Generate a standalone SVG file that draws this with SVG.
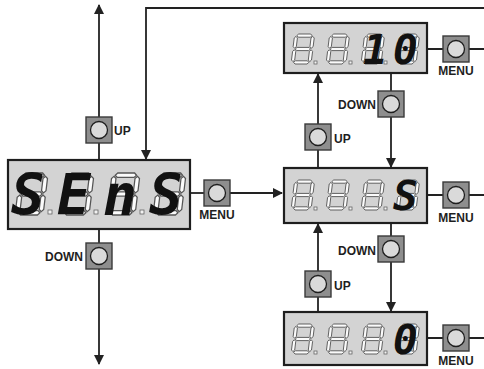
<svg xmlns="http://www.w3.org/2000/svg" xmlns:xlink="http://www.w3.org/1999/xlink" width="484" height="369" viewBox="0 0 484 369">
<style>
.disp{fill:#d3d3d3;stroke:#1e1e1e;stroke-width:2.2}
.ghost{fill:#fbfbfb;stroke:#555;stroke-width:0.9}
.dot{fill:#f2f2f2;stroke:#666;stroke-width:0.8}
.lit{font-family:"DejaVu Sans Mono",monospace;font-weight:bold;font-style:italic;fill:#111}
.btn{fill:#8e8e8e;stroke:#3a3a3a;stroke-width:1.4}
.knob{fill:#dadada;stroke:#1e1e1e;stroke-width:1.3}
.lbl{font-family:"Liberation Sans",Arial,sans-serif;font-weight:bold;font-size:12px;fill:#1e1e1e}
.wire{fill:none;stroke:#222;stroke-width:1.8}
</style>
<defs>
<path id="g8" class="ghost" d="M2.4,1.6L4,0L16,0L17.6,1.6L16,3.2L4,3.2Z M2.4,15L4,13.4L16,13.4L17.6,15L16,16.6L4,16.6Z M2.4,28.4L4,26.8L16,26.8L17.6,28.4L16,30L4,30Z M1.6,2.4L3.2,4L3.2,12.6L1.6,14.2L0,12.6L0,4Z M18.4,2.4L20,4L20,12.6L18.4,14.2L16.8,12.6L16.8,4Z M1.6,15.8L3.2,17.4L3.2,26L1.6,27.6L0,26L0,17.4Z M18.4,15.8L20,17.4L20,26L18.4,27.6L16.8,26L16.8,17.4Z"/>
<g id="d8" transform="skewX(-7)"><use xlink:href="#g8" transform="translate(3.7,0)"/></g>
<g id="btn"><rect class="btn" x="-13" y="-13" width="26" height="26"/><circle class="knob" cx="0" cy="0" r="8.5"/></g>
<marker id="ah" markerWidth="10" markerHeight="10" refX="9" refY="5" orient="auto" markerUnits="userSpaceOnUse"><path d="M0,0L10,5L0,10Z" fill="#222"/></marker>
</defs>

<g id="connectors">
<path class="wire" d="M99,160V5" marker-end="url(#ah)"/>
<path class="wire" d="M99,229V364" marker-end="url(#ah)"/>
<path class="wire" d="M484,8H146V159" marker-end="url(#ah)"/>
<path class="wire" d="M190,193H205"/>
<path class="wire" d="M229,193H282" marker-end="url(#ah)"/>
<path class="wire" d="M427,49H444M468,49H484"/>
<path class="wire" d="M427,195H444M468,195H484"/>
<path class="wire" d="M427,338H444M468,338H484"/>
<path class="wire" d="M318,168V74" marker-end="url(#ah)"/>
<path class="wire" d="M391,73V167" marker-end="url(#ah)"/>
<path class="wire" d="M318,312V224" marker-end="url(#ah)"/>
<path class="wire" d="M391,223V311" marker-end="url(#ah)"/>
</g>

<g id="display-sens">
<rect class="disp" x="8" y="160" width="182" height="69"/>
<g transform="translate(15,173) scale(1.4)"><use xlink:href="#d8"/></g>
<g transform="translate(61,173) scale(1.4)"><use xlink:href="#d8"/></g>
<g transform="translate(107,173) scale(1.4)"><use xlink:href="#d8"/></g>
<g transform="translate(153,173) scale(1.4)"><use xlink:href="#d8"/></g>
<rect class="dot" x="48" y="210" width="4" height="4"/>
<rect class="dot" x="94" y="210" width="4" height="4"/>
<rect class="dot" x="140" y="210" width="4" height="4"/>
<text class="lit" font-size="56" x="11 57 103 149" y="215">SEnS</text>
</g>

<g id="display-10">
<rect class="disp" x="284" y="23" width="143" height="50"/>
<use xlink:href="#d8" x="291" y="34"/>
<use xlink:href="#d8" x="326" y="34"/>
<use xlink:href="#d8" x="361" y="34"/>
<use xlink:href="#d8" x="396" y="34"/>
<rect class="dot" x="314" y="61" width="3" height="3"/>
<rect class="dot" x="349" y="61" width="3" height="3"/>
<rect class="dot" x="384" y="61" width="3" height="3"/>
<text class="lit" font-size="41" x="363 393" y="64">10</text>
</g>

<g id="display-s">
<rect class="disp" x="284" y="168" width="143" height="55"/>
<use xlink:href="#d8" x="291" y="180"/>
<use xlink:href="#d8" x="326" y="180"/>
<use xlink:href="#d8" x="361" y="180"/>
<use xlink:href="#d8" x="396" y="180"/>
<rect class="dot" x="314" y="207" width="3" height="3"/>
<rect class="dot" x="349" y="207" width="3" height="3"/>
<rect class="dot" x="384" y="207" width="3" height="3"/>
<text class="lit" font-size="41" x="393" y="210">S</text>
</g>

<g id="display-0">
<rect class="disp" x="284" y="312" width="143" height="53"/>
<use xlink:href="#d8" x="291" y="324"/>
<use xlink:href="#d8" x="326" y="324"/>
<use xlink:href="#d8" x="361" y="324"/>
<use xlink:href="#d8" x="396" y="324"/>
<rect class="dot" x="314" y="351" width="3" height="3"/>
<rect class="dot" x="349" y="351" width="3" height="3"/>
<rect class="dot" x="384" y="351" width="3" height="3"/>
<text class="lit" font-size="41" x="393" y="354">0</text>
</g>

<g id="btn-up-left"><use xlink:href="#btn" x="99" y="130"/><text class="lbl" x="114" y="135">UP</text></g>
<g id="btn-down-left"><use xlink:href="#btn" x="99" y="256"/><text class="lbl" x="83" y="261" text-anchor="end">DOWN</text></g>
<g id="btn-menu-left"><use xlink:href="#btn" x="217" y="193"/><text class="lbl" x="217" y="219" text-anchor="middle">MENU</text></g>
<g id="btn-menu-10"><use xlink:href="#btn" x="456" y="49"/><text class="lbl" x="456" y="75" text-anchor="middle">MENU</text></g>
<g id="btn-menu-s"><use xlink:href="#btn" x="456" y="195"/><text class="lbl" x="456" y="222" text-anchor="middle">MENU</text></g>
<g id="btn-menu-0"><use xlink:href="#btn" x="456" y="338"/><text class="lbl" x="456" y="365" text-anchor="middle">MENU</text></g>
<g id="btn-up-1"><use xlink:href="#btn" x="318" y="137"/><text class="lbl" x="334" y="143">UP</text></g>
<g id="btn-down-1"><use xlink:href="#btn" x="391" y="104"/><text class="lbl" x="376" y="109" text-anchor="end">DOWN</text></g>
<g id="btn-up-2"><use xlink:href="#btn" x="318" y="284"/><text class="lbl" x="334" y="290">UP</text></g>
<g id="btn-down-2"><use xlink:href="#btn" x="391" y="249"/><text class="lbl" x="376" y="255" text-anchor="end">DOWN</text></g>
</svg>
